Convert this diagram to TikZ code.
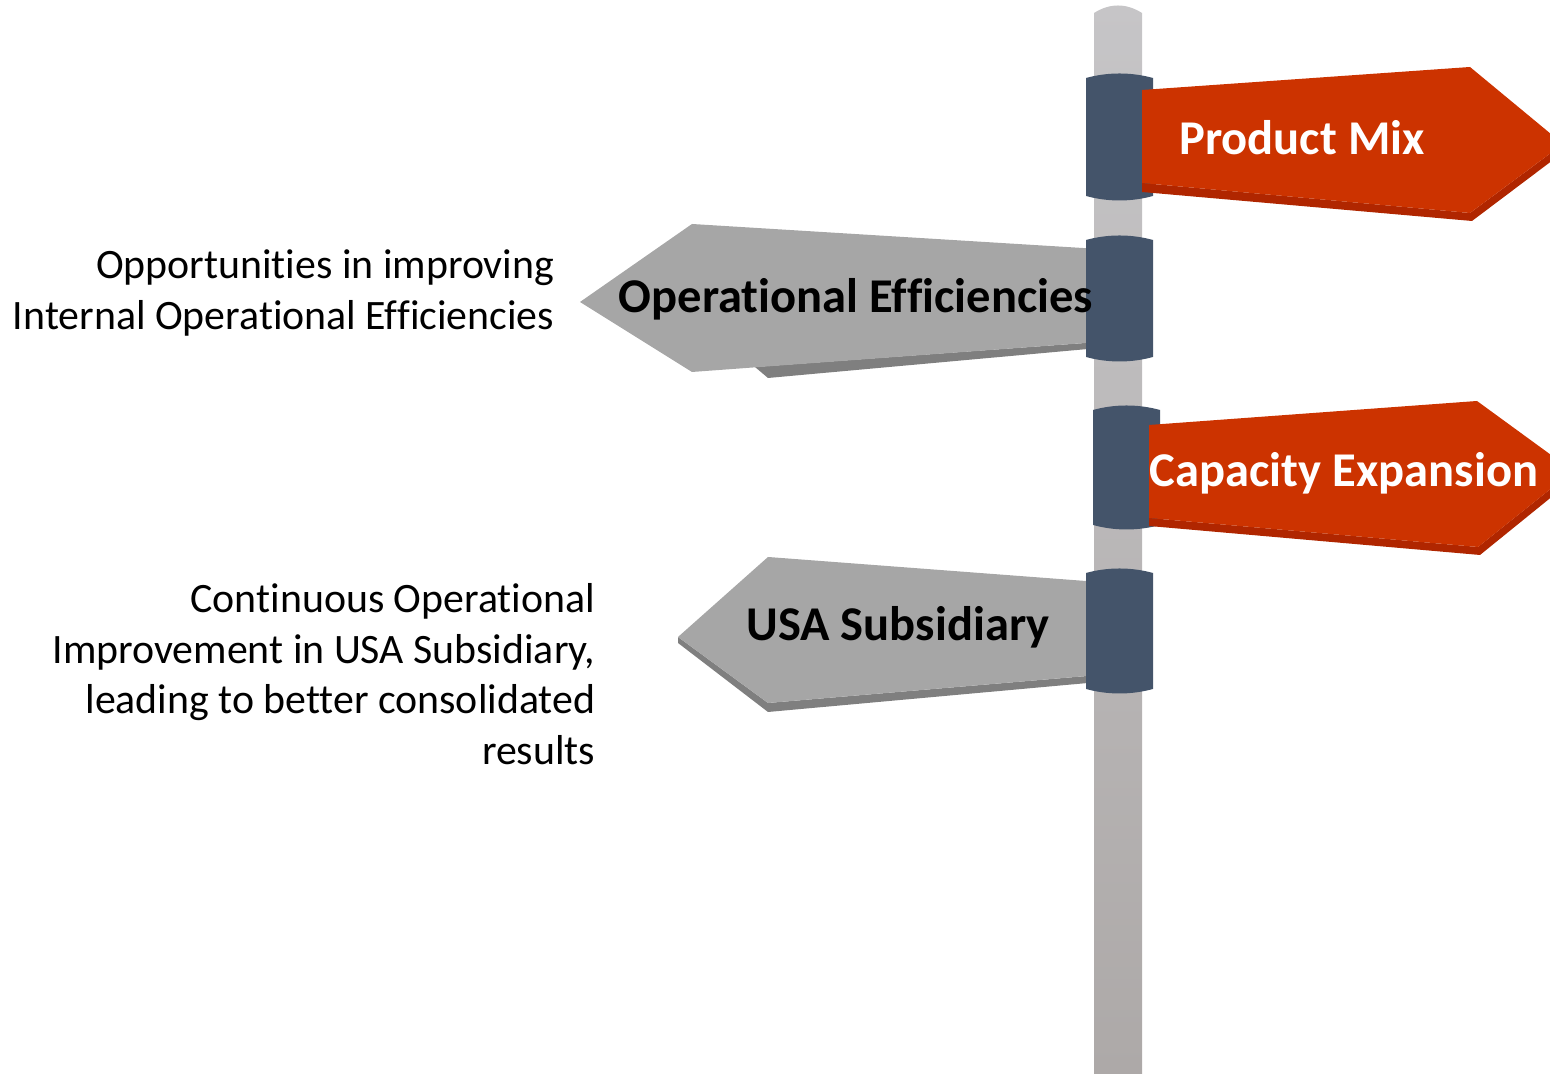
\documentclass[tikz,border=0pt]{standalone}
\usepackage{fontspec}
\setmainfont[Ligatures=NoCommon]{Carlito}
\usepackage{tikz}
\definecolor{signred}{RGB}{204,51,0}
\definecolor{signredshade}{RGB}{176,38,0}
\definecolor{signgray}{RGB}{166,166,166}
\definecolor{signgrayshade}{RGB}{127,127,127}
\definecolor{collarblue}{RGB}{68,84,106}
\definecolor{poletop}{RGB}{198,197,199}
\definecolor{polebottom}{RGB}{173,169,168}
\newcommand{\signcollar}[3]{%
  \fill[collarblue] (#1,#2+5) .. controls (#1+22,#2-1) and (#1+45,#2-1) .. (#1+67,#2+5)
    -- (#1+67,#3-5) .. controls (#1+45,#3+1) and (#1+22,#3+1) .. (#1,#3-5) -- cycle;}

\begin{document}
\begin{tikzpicture}[x=0.01cm,y=-0.01cm,
  signlabel/.style={font=\fontsize{13.8}{16}\selectfont\bfseries,inner sep=0pt,anchor=base},
  note/.style={font=\fontsize{11.9}{14.37}\selectfont,align=right,inner sep=0pt,anchor=east}]
\useasboundingbox (0,0) rectangle (1550,1074);
\clip (0,0) rectangle (1550,1074);
\shade[top color=poletop,bottom color=polebottom] (1094,1074) -- (1094,13) .. controls (1110,3) and (1126,3) .. (1142,13) -- (1142,1074) -- cycle;

\signcollar{1086}{73}{201}
\fill[signredshade] (1142,183) -- (1470,213) -- (1563,144) -- (1565,151) -- (1472,221) -- (1142,192) -- cycle;
\fill[signred] (1142,90) -- (1470,67) -- (1563,144) -- (1470,213) -- (1142,183) -- cycle;

\fill[signgrayshade] (755,367) -- (768,378) -- (1099,348) -- (1099,342) -- cycle;
\fill[signgray] (580,302) -- (692,224) -- (1099,249) -- (1099,342) -- (692,372) -- cycle;
\signcollar{1086}{235}{362}

\signcollar{1093}{405}{530}
\fill[signredshade] (1149,518) -- (1478,547) -- (1573,471) -- (1575,478) -- (1480,555) -- (1149,526) -- cycle;
\fill[signred] (1149,425) -- (1477,401) -- (1573,471) -- (1478,547) -- (1149,518) -- cycle;

\fill[signgrayshade] (678,637) -- (678,643) -- (768,712) -- (1099,682) -- (1099,675) -- (768,703) -- cycle;
\fill[signgray] (678,637) -- (768,557) -- (1099,582) -- (1099,675) -- (768,703) -- cycle;
\signcollar{1086}{568}{694}

\node[signlabel,text=white] (mix) at (1302,155) {Product Mix};
\node[signlabel] (opeff) at (856,313) {Operational Efficiencies};
\node[signlabel,text=white] (capex) at (1344,487) {Capacity Expansion};
\node[signlabel] (usa) at (898,641) {USA Subsidiary};

\node[note] (opnote) at (555,293) {Opportunities in improving\\Internal Operational Efficiencies};
\node[note] (usanote) at (596,674) {Continuous Operational\\Improvement in USA Subsidiary,\\leading to better consolidated\\results};
\end{tikzpicture}
\end{document}
